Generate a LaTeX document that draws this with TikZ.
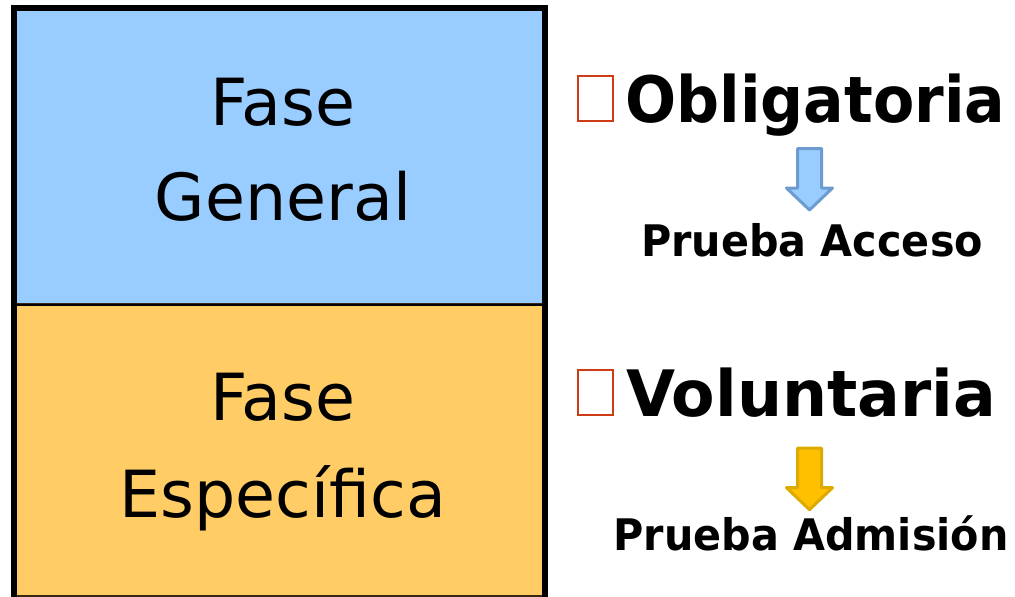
\documentclass[tikz,border=0pt]{standalone}
\usepackage{fontspec}
\setmainfont{DejaVu Sans}
\newfontfamily\tipofont[FakeStretch=0.95]{DejaVu Sans}
\newfontfamily\obligfont[FakeStretch=0.94]{DejaVu Sans}
\newfontfamily\volunfont[FakeStretch=0.99]{DejaVu Sans}
\usetikzlibrary{positioning}
\definecolor{faseblue}{HTML}{99CCFF}
\definecolor{faseorange}{HTML}{FFCC66}
\definecolor{arrowblue}{HTML}{99CCFF}
\definecolor{arrowblueline}{HTML}{6C9BD0}
\definecolor{arroworange}{HTML}{FFC000}
\definecolor{arroworangeline}{HTML}{DDAA00}
\definecolor{markred}{RGB}{205,60,20}

\begin{document}
\begin{tikzpicture}[x=1pt,y=-1pt,
	fasebox/.style={draw=black!70!brown, line width=1.5pt, minimum width=529.5pt, inner sep=0pt},
	fasetext/.style={anchor=base, inner sep=0pt, font=\fontsize{65}{78}\selectfont},
	tipotext/.style={anchor=base west, inner sep=0pt, font=\fontsize{64}{76}\selectfont\bfseries},
	pruebatext/.style={anchor=base, inner sep=0pt, font=\fontsize{43.5}{52}\selectfont\tipofont\bfseries},
	markbox/.style={rectangle, draw=markred, line width=2pt, minimum width=35.5pt, minimum height=45.5pt, inner sep=0pt}]
	\useasboundingbox (0,0) rectangle (1015,597);
	%phase boxes
	\node[fasebox, fill=faseblue, minimum height=295pt] (general) at (279.75,156.5) {};
	\node[fasebox, fill=faseorange, minimum height=292pt] (especifica) at (279.75,450) {};
	%outer frame
	\draw[line width=6pt] (especifica.south west) |- (general.north east) -- (especifica.south east);
	\draw[line width=2pt] (general.south west) -- (general.south east);
	%phase labels
	\node[fasetext] (generalA) at (283,125) {Fase};
	\node[fasetext] (generalB) at (283,220.7) {General};
	\node[fasetext] (especificaA) at (283,420.7) {Fase};
	\node[fasetext] (especificaB) at (283,517) {Específica};
	%marks and right labels
	\node[markbox] (markA) at (595.5,98.5) {};
	\node[markbox] (markB) at (595.5,392.5) {};
	\node[tipotext] (obligatoria) at (625,122.7) {\obligfont\bfseries Obligatoria};
	\node[tipotext] (voluntaria) at (626,416) {\volunfont\bfseries Voluntaria};
	\node[pruebatext] (acceso) at (812,256.7) {Prueba Acceso};
	\node[pruebatext] (admision) at (811,550) {Prueba Admisión};
	%down arrows
	\foreach \y/\fc/\dc in {0/arrowblue/arrowblueline, 299.7/arroworange/arroworangeline}
		\draw[yshift=-\y pt, fill=\fc, draw=\dc, line width=3pt, line join=round]
			(797.5,148.5) -- (821.5,148.5) -- (821.5,188) -- (832.5,188) --
			(809.5,210) -- (786.5,188) -- (797.5,188) -- cycle;
\end{tikzpicture}
\end{document}
